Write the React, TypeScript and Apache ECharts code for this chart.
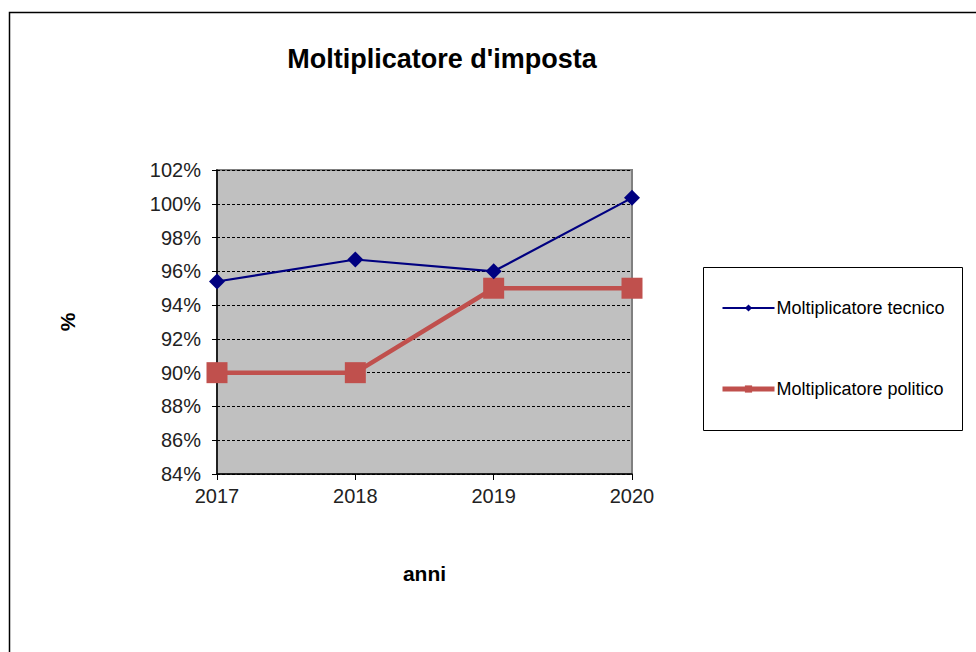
import React, { useEffect, useRef } from "react";
import * as echarts from "echarts";

const years = ["2017", "2018", "2019", "2020"];
const tecnico = [95.4, 96.7, 96.0, 100.35];
const politico = [90, 90, 95, 95];
const seriesNames = ["Moltiplicatore tecnico", "Moltiplicatore politico"];
const titleText = "Moltiplicatore d'imposta";

export default function App() {
  const ref = useRef<HTMLDivElement>(null);
  useEffect(() => {
    document.body.style.margin = "0";
    const chart = echarts.init(ref.current!, null, { renderer: "svg" });
    const font = "Liberation Sans, Arial, sans-serif";
    chart.setOption({
      animation: false,
      backgroundColor: "#ffffff",
      textStyle: { fontFamily: font, color: "#000" },
      title: {
        text: titleText,
        left: 437,
        textAlign: "center",
        top: 40,
        textStyle: { fontFamily: font, fontSize: 27, fontWeight: "bold", color: "#000" },
      },
      graphic: [
        {
          type: "rect",
          shape: { x: 9.5, y: 12.5, width: 1000, height: 700 },
          style: { fill: "none", stroke: "#000", lineWidth: 1.5 },
          silent: true,
        },
        {
          type: "rect",
          shape: { x: 703.5, y: 267.5, width: 259, height: 163 },
          style: { fill: "none", stroke: "#000", lineWidth: 1 },
          silent: true,
        },
      ],
      legend: {
        orient: "vertical",
        left: 720,
        top: 299,
        padding: 0,
        itemWidth: 52,
        itemHeight: 9,
        itemGap: 63,
        textStyle: { fontFamily: font, fontSize: 18, color: "#000", padding: [0, 0, 0, -3] },
        data: [
          { name: seriesNames[0], lineStyle: { width: 2 } },
          { name: seriesNames[1], lineStyle: { width: 5 } },
        ],
      },
      grid: {
        left: 217,
        top: 170,
        right: 344,
        bottom: 178,
        show: true,
        backgroundColor: "#C0C0C0",
        borderColor: "#808080",
        borderWidth: 2,
      },
      xAxis: {
        type: "category",
        data: years,
        boundaryGap: false,
        name: "anni",
        nameLocation: "middle",
        nameGap: 89,
        nameTextStyle: { fontFamily: font, fontSize: 21, fontWeight: "bold", color: "#000" },
        axisLine: { show: true, lineStyle: { color: "#000", width: 1.5 } },
        axisTick: { show: true, length: 6, lineStyle: { color: "#000" } },
        axisLabel: { fontFamily: font, fontSize: 20, color: "#222", margin: 12 },
        splitLine: { show: false },
      },
      yAxis: {
        type: "value",
        min: 84,
        max: 102,
        interval: 2,
        name: "%",
        nameLocation: "middle",
        nameRotate: 90,
        nameGap: 139,
        nameTextStyle: { fontFamily: font, fontSize: 21, fontWeight: "bold", color: "#000" },
        axisLine: { show: true, lineStyle: { color: "#000", width: 1.5 } },
        axisTick: { show: true, length: 5, lineStyle: { color: "#000" } },
        axisLabel: {
          fontFamily: font,
          fontSize: 20,
          color: "#222",
          margin: 16,
          formatter: (v: number) => v + "%",
        },
        splitLine: { show: true, lineStyle: { color: "#000", type: [3, 2], width: 1 } },
      },
      series: [
        {
          name: seriesNames[0],
          type: "line",
          data: tecnico,
          symbol: "diamond",
          symbolSize: 16,
          itemStyle: { color: "#000080" },
          lineStyle: { color: "#000080", width: 2.2 },
          z: 3,
        },
        {
          name: seriesNames[1],
          type: "line",
          data: politico,
          symbol: "rect",
          symbolSize: 21,
          itemStyle: { color: "#C0504D" },
          lineStyle: { color: "#C0504D", width: 4.5 },
          z: 2,
        },
      ],
    });
    return () => chart.dispose();
  }, []);
  return <div ref={ref} style={{ width: 976, height: 652 }} />;
}
